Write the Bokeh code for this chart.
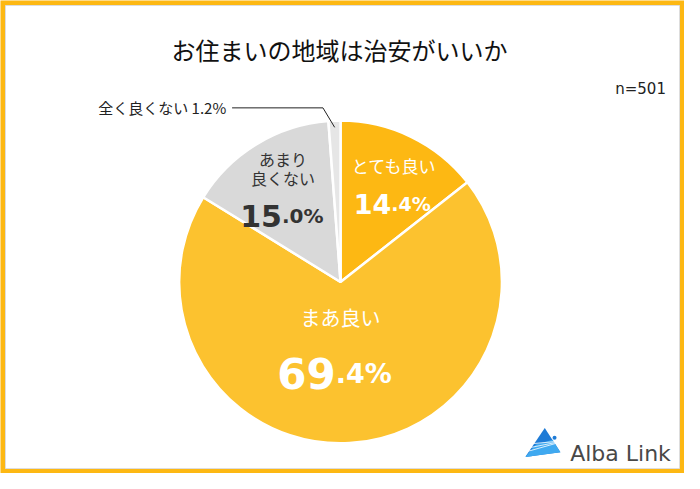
import math
from bokeh.plotting import figure
from bokeh.models import Range1d, ColumnDataSource
from bokeh.core.properties import value
from bokeh.embed import file_html
from bokeh.resources import INLINE

# ---- data ----
title = "お住まいの地域は治安がいいか"
n_label = "n=501"
categories = ["とても良い", "まあ良い", "あまり良くない", "全く良くない"]
values = [14.4, 69.4, 15.0, 1.2]
colors = ["#FDB813", "#FCC22F", "#D9D9D9", "#E6E6E6"]

W, H = 684, 473
SX, SY = W / 700, H / 489
def X(rx): return rx * SX
def Y(ry): return H - ry * SY

p = figure(width=W, height=H, output_backend="svg", toolbar_location=None,
           x_range=Range1d(0, W), y_range=Range1d(0, H), min_border=0)
p.axis.visible = False
p.xgrid.visible = False
p.ygrid.visible = False
p.outline_line_color = None
p.background_fill_color = "#FDB813"
p.border_fill_color = "#FDB813"

# white card inside orange frame
p.quad(left=[5], right=[W - 5], bottom=[5], top=[H - 5],
       fill_color="white", line_color="#DDDDDD", line_width=1)

# ---- pie ----
cx, cy, R = X(348), Y(291), 166 * (SX + SY) / 2
total = sum(values)
starts, ends, mids = [], [], []
acc = 0.0
for v in values:
    a0 = math.pi / 2 - acc / total * 2 * math.pi
    acc += v
    a1 = math.pi / 2 - acc / total * 2 * math.pi
    starts.append(a0); ends.append(a1); mids.append((a0 + a1) / 2)
src = ColumnDataSource(dict(start=starts, end=ends, color=colors))
p.wedge(x=cx, y=cy, radius=R, radius_units="screen", start_angle="start",
        end_angle="end", direction="clock", fill_color="color",
        line_color="white", line_width=2.5, source=src)

jp = value("Noto Sans CJK JP")
num = value("DejaVu Sans")

def split_pct(v):
    s = f"{v:.1f}"
    a, b = s.split(".")
    return a, "." + b + "%"

# title & n
p.text(x=[X(347)], y=[Y(51)], text=[title], text_font=jp, text_font_size="24px",
       text_align="center", text_baseline="middle", text_color="#111111")
p.text(x=[X(681)], y=[Y(91)], text=[n_label], text_font=num,
       text_font_size="15px", text_align="right", text_baseline="middle",
       text_color="#222222")

# とても良い
a, b = split_pct(values[0])
p.text(x=[X(403)], y=[Y(171)], text=[categories[0]], text_font=jp, text_font_size="17px",
       text_align="center", text_baseline="middle", text_color="white")
p.text(x=[X(400)], y=[Y(210)], text=[a], text_font=num, text_font_size="27px",
       text_font_style="bold", text_align="right", text_baseline="alphabetic", text_color="white")
p.text(x=[X(400)], y=[Y(210)], text=[b], text_font=num, text_font_size="19px",
       text_font_style="bold", text_align="left", text_baseline="alphabetic", text_color="white")

# まあ良い
a, b = split_pct(values[1])
p.text(x=[X(348)], y=[Y(328)], text=[categories[1]], text_font=jp, text_font_size="20px",
       text_align="center", text_baseline="middle", text_color="white")
p.text(x=[X(343)], y=[Y(386)], text=[a], text_font=num, text_font_size="42px",
       text_font_style="bold", text_align="right", text_baseline="alphabetic", text_color="white")
p.text(x=[X(343)], y=[Y(386)], text=[b], text_font=num, text_font_size="27px",
       text_font_style="bold", text_align="left", text_baseline="alphabetic", text_color="white")

# あまり良くない
a, b = split_pct(values[2])
p.text(x=[X(289), X(289)], y=[Y(164), Y(184)], text=["あまり", "良くない"], text_font=jp,
       text_font_size="16px", text_align="center", text_baseline="middle", text_color="#333333")
p.text(x=[X(288)], y=[Y(223)], text=[a], text_font=num, text_font_size="30px",
       text_font_style="bold", text_align="right", text_baseline="alphabetic", text_color="#333333")
p.text(x=[X(288)], y=[Y(223)], text=[b], text_font=num, text_font_size="20px",
       text_font_style="bold", text_align="left", text_baseline="alphabetic", text_color="#333333")

# 全く良くない (outside label with leader)
p.text(x=[X(231)], y=[Y(111)], text=[f"{categories[3]} {values[3]:.1f}%"], text_font=jp,
       text_font_size="15px", text_align="right", text_baseline="middle", text_color="#222222")
ex = cx + 160 * SX * math.cos(mids[3])
ey = cy + 160 * SY * math.sin(mids[3])
p.line(x=[X(237), X(330), ex], y=[Y(111), Y(111), ey], line_color="#222222", line_width=1)

# ---- Alba Link logo ----
p.patch(x=[X(557), X(537), X(573)], y=[Y(442), Y(472), Y(467)], fill_color="#1E7BD6",
        line_color=None)
p.patch(x=[X(548), X(537), X(573), X(565)], y=[Y(459), Y(472), Y(467), Y(454)],
        fill_color="#3FA9F0", line_color=None)
for k in range(3):
    p.line(x=[X(540 + k * 3), X(568)], y=[Y(466 - k * 4), Y(458 - k * 1)],
           line_color="white", line_width=1, line_alpha=0.8)
p.scatter(x=[X(567)], y=[Y(452)], size=4, fill_color="#1E7BD6", line_color=None)
p.text(x=[X(583)], y=[Y(468)], text=["Alba Link"], text_font=num,
       text_font_size="22px", text_align="left", text_baseline="alphabetic",
       text_color="#484848")

open("out.html", "w").write(file_html(p, INLINE))
